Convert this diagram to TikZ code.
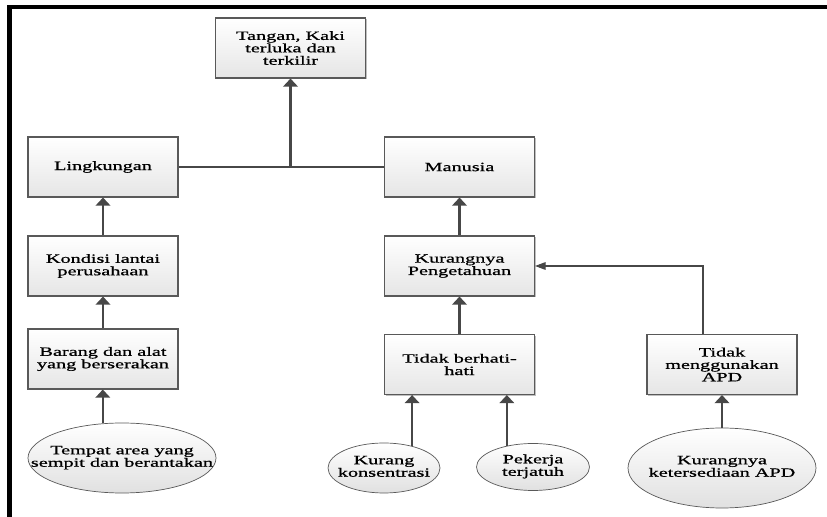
\documentclass[tikz,border=0pt]{standalone}
\usepackage{fontspec}
\setmainfont[FakeStretch=1.6,FakeBold=0.8]{Liberation Serif}
\usepackage{tikz}
\usetikzlibrary{arrows.meta,shapes.geometric,shadows}

\newcommand{\ovaltext}[1]{\makebox[0pt]{\begin{tabular}{@{}c@{}}#1\end{tabular}}}

\begin{document}
\begin{tikzpicture}[x=0.03cm,y=-0.03cm,
        box/.style={rectangle, draw=black!65, line width=0.9pt, top color=white, bottom color=black!10,
            minimum width=4.5cm, minimum height=1.8cm, align=center, font=\fontsize{10.8}{10.6}\selectfont,
            drop shadow={shadow xshift=1.2pt, shadow yshift=-1.2pt, fill=black!25, opacity=1}},
        bubble/.style={ellipse, draw=black!65, line width=0.6pt, top color=white, bottom color=black!12,
            inner sep=0pt, font=\fontsize{10.8}{10.6}\selectfont},
        arr/.style={draw=black!72, line width=2.1pt, -{Triangle[width=12.5pt,length=7pt]}},
        thinarr/.style={draw=black!72, line width=0.9pt, -{Triangle[width=6.5pt,length=9pt]}},
        link/.style={draw=black!72, line width=0.9pt}]
        \useasboundingbox (0,0) rectangle (827,517);
        \fill (7,5) rectangle (827,9);
        \fill (7,5) rectangle (12,517);

        \node[box] (tangan) at (290.5,48) {Tangan, Kaki\\terluka dan\\terkilir};
        \node[box] (lingkungan) at (103,167) {Lingkungan};
        \node[box] (manusia) at (459.5,167) {Manusia};
        \node[box] (kondisi) at (103,266) {Kondisi lantai\\perusahaan};
        \node[box] (pengetahuan) at (459.5,266) {Kurangnya\\Pengetahuan};
        \node[box] (barang) at (103,359) {Barang dan alat\\yang berserakan};
        \node[box] (berhati) at (459.5,364.5) {Tidak berhati-\\hati};
        \node[box] (apd) at (722,364.5) {Tidak\\menggunakan\\APD};

        \node[bubble, minimum width=5.64cm, minimum height=2.1cm] (tempat) at (122,458)
            {\ovaltext{Tempat area yang\\sempit dan berantakan}};
        \node[bubble, minimum width=3.36cm, minimum height=1.5cm] (konsentrasi) at (384,468)
            {\ovaltext{Kurang\\konsentrasi}};
        \node[bubble, minimum width=3.39cm, minimum height=1.41cm] (pekerja) at (533,467)
            {\ovaltext{Pekerja\\terjatuh}};
        \node[bubble, minimum width=5.64cm, minimum height=2.4cm] (sedia) at (722,468)
            {\ovaltext{Kurangnya\\ketersediaan APD}};

        \draw[link] (lingkungan.east) -- (manusia.west);
        \draw[arr] (lingkungan.east -| tangan.south) -- (tangan.south);
        \draw[arr] (kondisi) -- (lingkungan);
        \draw[arr] (barang) -- (kondisi);
        \draw[arr] (tempat.119) -- (tempat.119 |- barang.south);
        \draw[arr] (pengetahuan) -- (manusia);
        \draw[arr] (berhati) -- (pengetahuan);
        \draw[arr] (konsentrasi.38) -- (konsentrasi.38 |- berhati.south);
        \draw[arr] (pekerja.141) -- (pekerja.141 |- berhati.south);
        \draw[arr] (sedia) -- (apd);
        \draw[thinarr] ([xshift=-0.57cm]apd.north) |- (pengetahuan.east);
    \end{tikzpicture}
\end{document}
